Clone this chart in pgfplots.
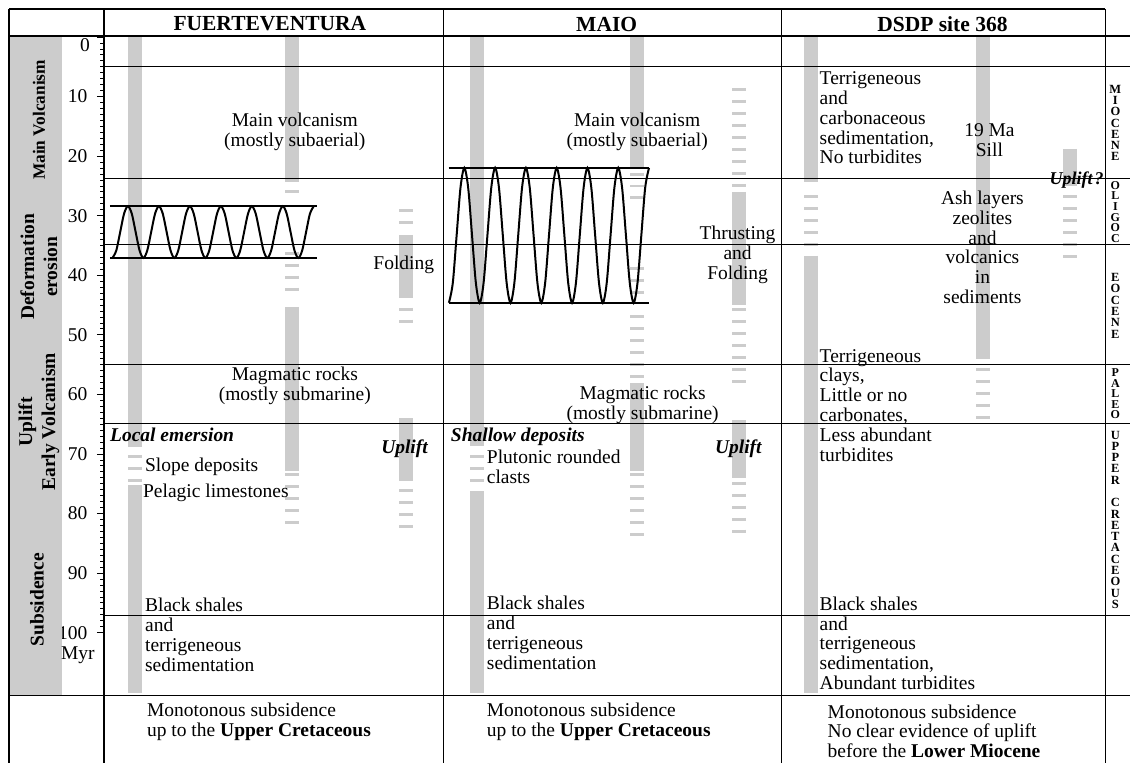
\documentclass[border=0pt]{standalone}
\usepackage{pgfplots}
\pgfplotsset{compat=1.18}
\usepackage{fontspec}
\setmainfont{Liberation Serif}
\tikzset{
  txt/.style={font=\fontsize{19.5}{19.8}\selectfont, inner sep=0pt},
  lab/.style={font=\fontsize{19.5}{23}\selectfont\bfseries, inner sep=0pt, rotate=90, align=center},
  per/.style={font=\fontsize{12.5}{11.3}\selectfont\bfseries, inner sep=0pt, align=center},
  perc/.style={font=\fontsize{12}{10.6}\selectfont\bfseries, inner sep=0pt, align=center},
  hdr/.style={font=\fontsize{21.5}{22}\selectfont\bfseries, inner sep=0pt},
}
\begin{document}
\begin{tikzpicture}
\begin{axis}[
  x=1pt, y=5.96pt, y dir=reverse,
  xmin=104, xmax=1131, ymin=-4.7, ymax=121.8,
  clip=false,
  axis line style={draw=none},
  xtick=\empty,
  ytick={0,10,...,100},
  yticklabels={{},10,20,30,40,50,60,70,80,90,100},
  minor ytick={0,1,...,100},
  ytick pos=left, tick align=outside,
  major tick length=7pt, minor tick length=3.5pt,
  tick style={black, line width=0.8pt},
  yticklabel style={font=\fontsize{19.5}{20}\selectfont, xshift=-6pt},
  /pgf/number format/assume math mode=true,
  gbar/.style={draw=black!20, line width=14pt, forget plot, mark=none},
  gdash/.style={draw=black!20, line width=14pt, dash pattern=on 3pt off 9pt, forget plot, mark=none},
  fold/.style={black, line width=2pt, smooth, tension=0.5, mark=none, forget plot},
  fline/.style={black, line width=2pt, mark=none, forget plot},
]
% bounding box
\path (axis cs:0,-6.21) rectangle (axis cs:1131,121.8);
% left label column
\fill[black!20] (axis cs:9,-0.17) rectangle (axis cs:62,110.57);

% ---- gray bars (solid) ----
\addplot[gbar] coordinates {(135,0) (135,68.8)};
\addplot[gbar] coordinates {(135,75.2) (135,110.2)};
\addplot[gbar] coordinates {(292,0) (292,24.4)};
\addplot[gbar] coordinates {(292,45.3) (292,72.9)};
\addplot[gbar] coordinates {(406,33.2) (406,43.8)};
\addplot[gbar] coordinates {(406,64.0) (406,74.5)};
\addplot[gbar] coordinates {(477,0) (477,68.7)};
\addplot[gbar] coordinates {(477,76.3) (477,110.2)};
\addplot[gbar] coordinates {(637,0) (637,22.0)};
\addplot[gbar] coordinates {(637,58.1) (637,72.9)};
\addplot[gbar] coordinates {(739,26.0) (739,45.0)};
\addplot[gbar] coordinates {(739,64.3) (739,74.0)};
\addplot[gbar] coordinates {(811,0) (811,24.3)};
\addplot[gbar] coordinates {(811,36.7) (811,110.2)};
\addplot[gbar] coordinates {(984,0) (984,54.0)};
\addplot[gbar] coordinates {(1071,18.8) (1071,25.0)};
% ---- gray bars (dashed) ----
\addplot[gdash] coordinates {(135,70.15) (135,74.73)};
\addplot[gdash] coordinates {(292,25.75) (292,26.3)};
\addplot[gdash] coordinates {(292,36.05) (292,42.64)};
\addplot[gdash] coordinates {(292,73.25) (292,81.85)};
\addplot[gdash] coordinates {(406,28.95) (406,31.51)};
\addplot[gdash] coordinates {(406,45.45) (406,48.01)};
\addplot[gdash] coordinates {(406,75.85) (406,82.44)};
\addplot[gdash] coordinates {(477,70.15) (477,74.73)};
\addplot[gdash] coordinates {(637,22.75) (637,27.33)};
\addplot[gdash] coordinates {(637,38.55) (637,43.13)};
\addplot[gdash] coordinates {(637,46.75) (637,57.37)};
\addplot[gdash] coordinates {(637,73.25) (637,83.87)};
\addplot[gdash] coordinates {(739,8.55) (739,25.2)};
\addplot[gdash] coordinates {(739,45.55) (739,58.18)};
\addplot[gdash] coordinates {(739,74.65) (739,83.25)};
\addplot[gdash] coordinates {(811,26.55) (811,35.15)};
\addplot[gdash] coordinates {(984,55.55) (984,64.15)};
\addplot[gdash] coordinates {(1071,26.55) (1071,37.17)};

% ---- table lines ----
\draw[line width=1.3pt] (axis cs:9,-4.7) -- (axis cs:1106,-4.7);
\draw[line width=1.3pt] (axis cs:9,-0.17) -- (axis cs:1131,-0.17);
\draw[line width=1pt] (axis cs:104,4.87) -- (axis cs:1131,4.87);
\draw[line width=1pt] (axis cs:104,23.83) -- (axis cs:1131,23.83);
\draw[line width=1pt] (axis cs:104,34.9) -- (axis cs:1131,34.9);
\draw[line width=1pt] (axis cs:104,55.0) -- (axis cs:1131,55.0);
\draw[line width=1pt] (axis cs:104,64.9) -- (axis cs:1131,64.9);
\draw[line width=1pt] (axis cs:104,97.1) -- (axis cs:1131,97.1);
\draw[line width=1.3pt] (axis cs:9,110.57) -- (axis cs:1131,110.57);
\draw[line width=1.3pt] (axis cs:9,-4.7) -- (axis cs:9,121.8);
\draw[line width=1.3pt] (axis cs:104,-4.7) -- (axis cs:104,121.8);
\draw[line width=1.3pt] (axis cs:444,-4.7) -- (axis cs:444,121.8);
\draw[line width=1.3pt] (axis cs:782,-4.7) -- (axis cs:782,121.8);
\draw[line width=1.3pt] (axis cs:1106,-4.7) -- (axis cs:1106,121.8);

% ---- folds ----
\addplot[fline] coordinates {(110,28.4) (317,28.4)};
\addplot[fline] coordinates {(110,37.1) (317,37.1)};
\addplot[fold] coordinates {
(112.5,37.10) (116.375,35.83) (120.25,32.75) (124.125,29.67) (128,28.40) (131.875,29.67) (135.75,32.75) (139.625,35.83)
(143.5,37.10) (147.375,35.83) (151.25,32.75) (155.125,29.67) (159,28.40) (162.875,29.67) (166.75,32.75) (170.625,35.83)
(174.5,37.10) (178.375,35.83) (182.25,32.75) (186.125,29.67) (190,28.40) (193.875,29.67) (197.75,32.75) (201.625,35.83)
(205.5,37.10) (209.375,35.83) (213.25,32.75) (217.125,29.67) (221,28.40) (224.875,29.67) (228.75,32.75) (232.625,35.83)
(236.5,37.10) (240.375,35.83) (244.25,32.75) (248.125,29.67) (252,28.40) (255.875,29.67) (259.75,32.75) (263.625,35.83)
(267.5,37.10) (271.375,35.83) (275.25,32.75) (279.125,29.67) (283,28.40) (286.875,29.67) (290.75,32.75) (294.625,35.83)
(298.5,37.10) (302.375,35.83) (306.25,32.75) (310.125,29.67) (314,28.40)};
\addplot[fline] coordinates {(449,21.98) (649,21.98)};
\addplot[fline] coordinates {(449,44.62) (649,44.62)};
\addplot[fold] coordinates {
(449.2,44.62) (453.05,41.31) (456.9,33.30) (460.75,25.30) (464.6,21.98) (468.45,25.30) (472.3,33.30) (476.15,41.31)
(480.0,44.62) (483.85,41.31) (487.7,33.30) (491.55,25.30) (495.4,21.98) (499.25,25.30) (503.1,33.30) (506.95,41.31)
(510.8,44.62) (514.65,41.31) (518.5,33.30) (522.35,25.30) (526.2,21.98) (530.05,25.30) (533.9,33.30) (537.75,41.31)
(541.6,44.62) (545.45,41.31) (549.3,33.30) (553.15,25.30) (557.0,21.98) (560.85,25.30) (564.7,33.30) (568.55,41.31)
(572.4,44.62) (576.25,41.31) (580.1,33.30) (583.95,25.30) (587.8,21.98) (591.65,25.30) (595.5,33.30) (599.35,41.31)
(603.2,44.62) (607.05,41.31) (610.9,33.30) (614.75,25.30) (618.6,21.98) (622.45,25.30) (626.3,33.30) (630.15,41.31)
(634.0,44.62) (637.85,41.31) (641.7,33.30) (645.55,25.30) (649.4,21.98)};

% ---- headers ----
\node[hdr] at (axis cs:270,-2.18) {FUERTEVENTURA};
\node[hdr] at (axis cs:607,-2.18) {MAIO};
\node[hdr] at (axis cs:943,-2.18) {DSDP site 368};

% ---- left labels ----
\node[lab, font=\fontsize{17.3}{20}\selectfont\bfseries] at (axis cs:39,13.93) {Main Volcanism};
\node[lab] at (axis cs:39,38.59) {Deformation\\erosion};
\node[lab] at (axis cs:39,64.6) {Uplift\\Early Volcanism};
\node[lab] at (axis cs:37,94.46) {Subsidence};
\node[txt, anchor=east] at (axis cs:90,1.35) {0};
\node[txt, align=center] at (axis cs:78,103.75) {Myr};

% ---- FUERTEVENTURA texts ----
\node[txt, align=center] at (axis cs:295,15.94) {Main volcanism\\(mostly subaerial)};
\node[txt] at (axis cs:404,38.26) {Folding};
\node[txt, align=center] at (axis cs:295,58.56) {Magmatic rocks\\(mostly submarine)};
\node[txt, anchor=west] at (axis cs:110,66.78) {\textbf{\textit{Local emersion}}};
\node[txt] at (axis cs:405,69.13) {\textbf{\textit{Uplift}}};
\node[txt, anchor=west] at (axis cs:145,72.15) {Slope deposits};
\node[txt, anchor=west] at (axis cs:143,76.51) {Pelagic limestones};
\node[txt, anchor=west, align=left] at (axis cs:145,100.34) {Black shales\\and\\terrigeneous\\sedimentation};
\node[txt, anchor=west, align=left] at (axis cs:147,114.93) {Monotonous subsidence\\up to the \textbf{Upper Cretaceous}};

% ---- MAIO texts ----
\node[txt, align=center] at (axis cs:637.5,15.94) {Main volcanism\\(mostly subaerial)};
\node[txt, align=center] at (axis cs:738,36.58) {Thrusting\\and\\Folding};
\node[txt, align=center] at (axis cs:643,61.74) {Magmatic rocks\\(mostly submarine)};
\node[txt, anchor=west] at (axis cs:451,67.11) {\textbf{\textit{Shallow deposits}}};
\node[txt] at (axis cs:739,69.13) {\textbf{\textit{Uplift}}};
\node[txt, anchor=west, align=left] at (axis cs:487,72.15) {Plutonic rounded\\clasts};
\node[txt, anchor=west, align=left] at (axis cs:487,100.0) {Black shales\\and\\terrigeneous\\sedimentation};
\node[txt, anchor=west, align=left] at (axis cs:487,114.93) {Monotonous subsidence\\up to the \textbf{Upper Cretaceous}};

% ---- DSDP texts ----
\node[txt, anchor=west, align=left] at (axis cs:820,13.59) {Terrigeneous\\and\\carbonaceous\\sedimentation,\\No turbidites};
\node[txt, align=center] at (axis cs:990,17.37) {19 Ma\\Sill};
\node[txt, anchor=west, font=\fontsize{18}{19}\selectfont] at (axis cs:1050,23.99) {\textbf{\textit{Uplift\kern2pt?}}};
\node[txt, align=center] at (axis cs:983,35.32) {Ash layers\\zeolites\\and\\volcanics\\in\\sediments};
\node[txt, anchor=west, align=left] at (axis cs:820,61.83) {Terrigeneous\\clays,\\Little or no\\carbonates,\\Less abundant\\turbidites};
\node[txt, anchor=west, align=left] at (axis cs:820,101.76) {Black shales\\and\\terrigeneous\\sedimentation,\\Abundant turbidites};
\node[txt, anchor=west, align=left] at (axis cs:828,116.53) {Monotonous subsidence\\No clear evidence of uplift\\before the \textbf{Lower Miocene}};

% ---- period labels ----
\node[per] at (axis cs:1116,14.43) {M\\I\\O\\C\\E\\N\\E};
\node[perc] at (axis cs:1116,29.35) {O\\L\\I\\G\\O\\C};
\node[per] at (axis cs:1116,45.13) {E\\O\\C\\E\\N\\E};
\node[perc] at (axis cs:1116,59.9) {P\\A\\L\\E\\O};
\node[per] at (axis cs:1116,81.04) {U\\P\\P\\E\\R\\~\\C\\R\\E\\T\\A\\C\\E\\O\\U\\S};
\end{axis}
\end{tikzpicture}
\end{document}
